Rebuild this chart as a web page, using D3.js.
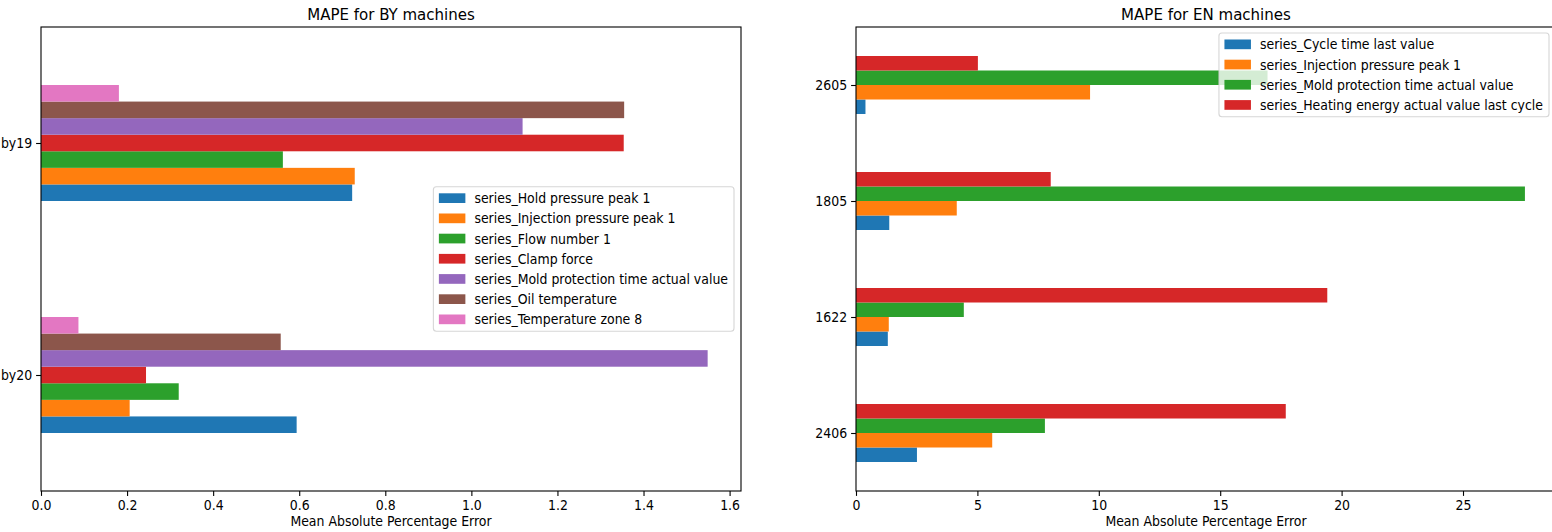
<!DOCTYPE html>
<html>
<head>
<meta charset="utf-8">
<script src="https://cdn.jsdelivr.net/npm/d3@7"></script>
<style>
  html, body { margin: 0; padding: 0; background: #fff; }
  svg text { font-family: "DejaVu Sans Condensed", "DejaVu Sans", sans-serif; fill: #000; }
</style>
</head>
<body>
<svg id="chart" width="1552" height="532"></svg>
<script>
// ---- BY machines ----
const byMachines = ["by20", "by19"];              // bottom to top
const bySeries = [
  "series_Hold pressure peak 1",
  "series_Injection pressure peak 1",
  "series_Flow number 1",
  "series_Clamp force",
  "series_Mold protection time actual value",
  "series_Oil temperature",
  "series_Temperature zone 8"
];
// one array per series, values ordered as byMachines
const byHoldPressure     = [0.594, 0.723];
const byInjectionPeak    = [0.206, 0.729];
const byFlowNumber       = [0.320, 0.562];
const byClampForce       = [0.244, 1.354];
const byMoldProtection   = [1.549, 1.119];
const byOilTemperature   = [0.557, 1.355];
const byTempZone8        = [0.087, 0.181];
const byXTicks = [0.0, 0.2, 0.4, 0.6, 0.8, 1.0, 1.2, 1.4, 1.6];

// ---- EN machines ----
const enMachines = ["2406", "1622", "1805", "2605"]; // bottom to top
const enSeries = [
  "series_Cycle time last value",
  "series_Injection pressure peak 1",
  "series_Mold protection time actual value",
  "series_Heating energy actual value last cycle"
];
const enCycleTime        = [2.51, 1.31, 1.37, 0.39];
const enInjectionPeak    = [5.61, 1.35, 4.15, 9.64];
const enMoldProtection   = [7.78, 4.44, 27.55, 16.95];
const enHeatingEnergy    = [17.70, 19.41, 8.02, 5.02];
const enXTicks = [0, 5, 10, 15, 20, 25];

const tab10 = ["#1f77b4", "#ff7f0e", "#2ca02c", "#d62728", "#9467bd", "#8c564b", "#e377c2"];

const svg = d3.select("#chart");

function panel(opts) {
  const { left, right, top, bottom, cats, names, values, xMax, ticks, tickFmt, title, legendPos } = opts;
  const g = svg.append("g");
  const n = names.length;

  const x = d3.scaleLinear().domain([0, xMax]).range([left, right]);
  const y = d3.scaleLinear().domain([-0.5, cats.length - 0.5]).range([bottom, top]);
  const w = 0.5 / n;

  // clip bars to the axes area
  const clipId = "clip" + Math.round(left);
  svg.append("clipPath").attr("id", clipId)
    .append("rect").attr("x", left).attr("y", top).attr("width", right - left).attr("height", bottom - top);

  const barsG = g.append("g").attr("clip-path", `url(#${clipId})`);
  values.forEach((vals, si) => {
    barsG.selectAll(null).data(vals).enter().append("rect")
      .attr("x", x(0))
      .attr("width", d => x(d) - x(0))
      .attr("y", (d, ci) => y(ci - 0.25 + (si + 1) * w))
      .attr("height", (d, ci) => y(ci - 0.25 + si * w) - y(ci - 0.25 + (si + 1) * w))
      .attr("fill", tab10[si]);
  });

  // x axis
  const xAxis = d3.axisBottom(x).tickValues(ticks).tickFormat(tickFmt).tickSizeOuter(0).tickSize(4.9).tickPadding(4);
  const xg = g.append("g").attr("transform", `translate(0,${bottom})`).call(xAxis);
  xg.select(".domain").remove();
  xg.selectAll("line").attr("stroke", "#000").attr("stroke-width", 1.1);
  xg.selectAll("text").attr("font-size", "13.9px").attr("font-family", null);

  // y axis
  const yAxis = d3.axisLeft(y).tickValues(cats.map((c, i) => i)).tickFormat(i => cats[i]).tickSizeOuter(0).tickSize(4.9).tickPadding(4);
  const yg = g.append("g").attr("transform", `translate(${left},0)`).call(yAxis);
  yg.select(".domain").remove();
  yg.selectAll("line").attr("stroke", "#000").attr("stroke-width", 1.1);
  yg.selectAll("text").attr("font-size", "13.9px").attr("font-family", null);

  // spines
  g.append("rect").attr("x", left).attr("y", top).attr("width", right - left).attr("height", bottom - top)
    .attr("fill", "none").attr("stroke", "#000").attr("stroke-width", 1.1);

  // title and axis label
  g.append("text").attr("x", (left + right) / 2).attr("y", top - 7)
    .attr("text-anchor", "middle").attr("font-size", "16.7px").text(title);
  g.append("text").attr("x", (left + right) / 2).attr("y", bottom + 35)
    .attr("text-anchor", "middle").attr("font-size", "13.9px").text("Mean Absolute Percentage Error");

  // legend
  const rowH = 20.2;
  const lg = g.append("g");
  const frame = lg.append("rect");
  const labels = lg.selectAll("text.lbl").data(names).enter().append("text")
    .attr("class", "lbl").attr("font-size", "13.9px").text(d => d);
  let maxW = 0;
  labels.each(function () { maxW = Math.max(maxW, this.getComputedTextLength()); });
  const boxW = 41 + maxW + 6;
  const boxH = n * rowH + 3;
  const boxRight = Math.min(right - 7, 1551);
  const boxLeft = boxRight - boxW;
  const boxTop = legendPos === "upper right" ? top + 6 : (top + bottom) / 2 - boxH / 2;
  frame.attr("x", boxLeft).attr("y", boxTop).attr("width", boxW).attr("height", boxH)
    .attr("rx", 3).attr("fill", "#fff").attr("fill-opacity", 0.8)
    .attr("stroke", "#cccccc").attr("stroke-opacity", 0.8).attr("stroke-width", 1.1);
  names.forEach((nm, i) => {
    const cy = boxTop + 11.3 + i * rowH;
    lg.append("rect").attr("x", boxLeft + 5.5).attr("y", cy - 4.8).attr("width", 26.5).attr("height", 9.7)
      .attr("fill", tab10[i]);
  });
  labels.attr("x", boxLeft + 41).attr("y", (d, i) => boxTop + 11.3 + i * rowH).attr("dy", "0.36em");
}

panel({
  left: 41, right: 741, top: 27, bottom: 491,
  cats: byMachines, names: bySeries,
  values: [byHoldPressure, byInjectionPeak, byFlowNumber, byClampForce, byMoldProtection, byOilTemperature, byTempZone8],
  xMax: 1.6265, ticks: byXTicks, tickFmt: d3.format(".1f"),
  title: "MAPE for BY machines", legendPos: "center right"
});

panel({
  left: 856, right: 1556, top: 27, bottom: 491,
  cats: enMachines, names: enSeries,
  values: [enCycleTime, enInjectionPeak, enMoldProtection, enHeatingEnergy],
  xMax: 28.83, ticks: enXTicks, tickFmt: d3.format("d"),
  title: "MAPE for EN machines", legendPos: "upper right"
});
</script>
</body>
</html>
